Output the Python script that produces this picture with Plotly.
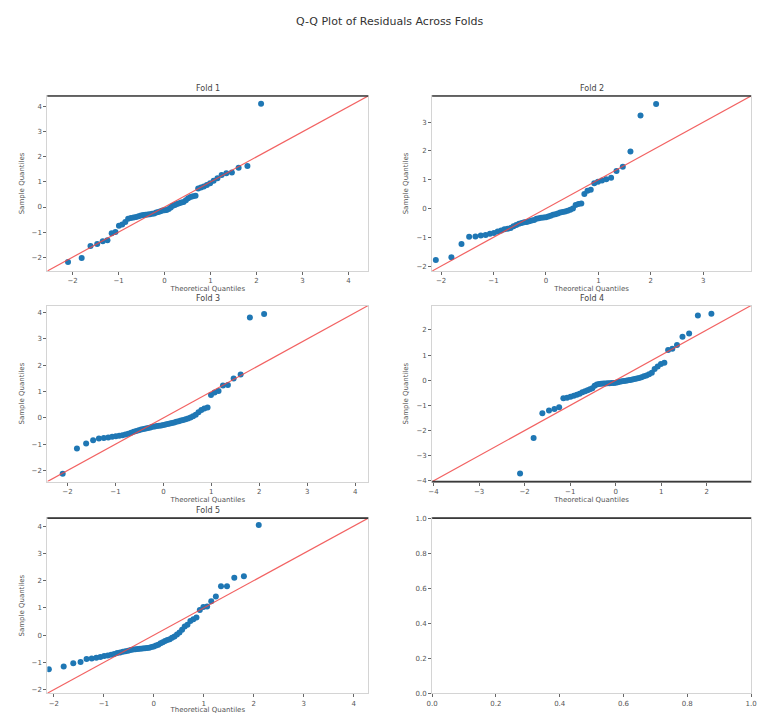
import plotly.graph_objects as go

# Theoretical quantiles (shared by all folds)
theoretical_q = [-2.100, -1.803, -1.611, -1.465, -1.345, -1.242, -1.150, -1.068, -0.992, -0.921,
                 -0.854, -0.792, -0.732, -0.674, -0.619, -0.566, -0.514, -0.464, -0.414, -0.366,
                 -0.319, -0.272, -0.226, -0.180, -0.135, -0.090, -0.045, 0.000, 0.045, 0.090,
                 0.135, 0.180, 0.226, 0.272, 0.319, 0.366, 0.414, 0.464, 0.514, 0.566,
                 0.619, 0.674, 0.732, 0.792, 0.854, 0.921, 0.992, 1.068, 1.150, 1.242,
                 1.345, 1.465, 1.611, 1.803, 2.100]

fold1 = [-2.19, -2.03, -1.55, -1.47, -1.36, -1.32, -1.05, -1.00, -0.75, -0.70,
         -0.60, -0.47, -0.44, -0.42, -0.40, -0.37, -0.34, -0.32, -0.31, -0.30,
         -0.29, -0.27, -0.26, -0.22, -0.20, -0.17, -0.14, -0.13, -0.12, -0.08,
         -0.02, 0.05, 0.08, 0.12, 0.15, 0.18, 0.20, 0.27, 0.35, 0.40,
         0.43, 0.45, 0.74, 0.78, 0.82, 0.88, 0.95, 1.05, 1.15, 1.28,
         1.35, 1.38, 1.57, 1.64, 4.12]

fold2 = [-1.79, -1.69, -1.23, -0.98, -0.97, -0.94, -0.92, -0.88, -0.85, -0.80,
         -0.76, -0.72, -0.70, -0.68, -0.62, -0.57, -0.53, -0.50, -0.48, -0.47,
         -0.44, -0.42, -0.40, -0.36, -0.34, -0.32, -0.31, -0.30, -0.28, -0.25,
         -0.22, -0.20, -0.17, -0.14, -0.12, -0.10, -0.08, -0.04, 0.00, 0.12,
         0.16, 0.17, 0.50, 0.62, 0.65, 0.88, 0.93, 0.97, 1.02, 1.07,
         1.30, 1.45, 1.98, 3.23, 3.63]

fold3 = [-2.12, -1.16, -0.97, -0.85, -0.78, -0.76, -0.74, -0.72, -0.70, -0.68,
         -0.66, -0.63, -0.60, -0.56, -0.53, -0.50, -0.47, -0.44, -0.42, -0.40,
         -0.38, -0.36, -0.34, -0.33, -0.31, -0.30, -0.29, -0.27, -0.25, -0.23,
         -0.21, -0.19, -0.17, -0.15, -0.13, -0.10, -0.08, -0.05, -0.02, 0.02,
         0.06, 0.12, 0.22, 0.30, 0.36, 0.40, 0.87, 0.97, 1.02, 1.23,
         1.25, 1.50, 1.65, 3.82, 3.95]

fold4 = [-3.71, -2.30, -1.31, -1.20, -1.14, -1.07, -0.72, -0.70, -0.66, -0.62,
         -0.58, -0.54, -0.48, -0.44, -0.40, -0.36, -0.32, -0.22, -0.17, -0.15,
         -0.14, -0.13, -0.13, -0.12, -0.12, -0.11, -0.11, -0.10, -0.08, -0.06,
         -0.04, -0.03, -0.02, 0.00, 0.01, 0.03, 0.05, 0.07, 0.09, 0.12,
         0.16, 0.19, 0.24, 0.30, 0.45, 0.55, 0.65, 0.70, 1.20, 1.25,
         1.40, 1.73, 1.86, 2.58, 2.65]

fold5 = [-1.25, -1.15, -1.03, -0.99, -0.88, -0.86, -0.83, -0.80, -0.77, -0.75,
         -0.72, -0.69, -0.66, -0.64, -0.61, -0.59, -0.57, -0.55, -0.53, -0.52,
         -0.51, -0.50, -0.49, -0.48, -0.47, -0.46, -0.44, -0.42, -0.38, -0.35,
         -0.30, -0.26, -0.22, -0.18, -0.15, -0.10, -0.05, 0.02, 0.10, 0.20,
         0.32, 0.38, 0.52, 0.58, 0.65, 0.92, 1.03, 1.05, 1.24, 1.42,
         1.79, 1.79, 2.10, 2.16, 4.04]

fold_names = ["Fold 1", "Fold 2", "Fold 3", "Fold 4", "Fold 5"]
fold_values = [fold1, fold2, fold3, fold4, fold5]
# shared axis limits (x and y) of each fold, 45-degree line spans them
fold_limits = [[-2.55, 4.43], [-2.17, 3.91], [-2.42, 4.27], [-4.03, 2.97], [-2.13, 4.29]]

empty_ticks = [0.0, 0.2, 0.4, 0.6, 0.8, 1.0]

W, H = 759, 714
col_px = [(42, 368), (433, 757)]
row_px = [(93, 270), (305, 483), (520, 697)]

def xdom(c):
    return [col_px[c][0] / W, col_px[c][1] / W]

def ydom(r):
    return [1 - row_px[r][1] / H, 1 - row_px[r][0] / H]

FONT = "DejaVu Sans"
BLUE = "#1f77b4"
fig = go.Figure()
layout = {}
annotations = []
shapes = []

tickfont = dict(family=FONT, size=7, color="#555")
titlefont = dict(family=FONT, size=7, color="#555")

for i in range(6):
    r, c = divmod(i, 2)
    k = i + 1
    xa = "xaxis" if k == 1 else f"xaxis{k}"
    ya = "yaxis" if k == 1 else f"yaxis{k}"
    xr = "x" if k == 1 else f"x{k}"
    yr = "y" if k == 1 else f"y{k}"
    common = dict(showgrid=False, zeroline=False, showline=True, linecolor="#d4d4d4",
                  linewidth=1, mirror=True, ticks="outside", ticklen=3, tickcolor="#666",
                  tickwidth=1, tickfont=tickfont, ticklabeloverflow="allow")
    if i < 5:
        lo, hi = fold_limits[i]
        fig.add_trace(go.Scatter(x=theoretical_q, y=fold_values[i], mode="markers",
                                 marker=dict(color=BLUE, size=6, line=dict(width=0)),
                                 xaxis=xr, yaxis=yr, showlegend=False))
        fig.add_trace(go.Scatter(x=[lo, hi], y=[lo, hi], mode="lines",
                                 line=dict(color="rgba(240,70,70,0.85)", width=1.2),
                                 xaxis=xr, yaxis=yr, showlegend=False))
        layout[xa] = dict(domain=xdom(c), anchor=yr, range=[lo, hi], dtick=1, tick0=0,
                          title=dict(text="Theoretical Quantiles", font=titlefont, standoff=0),
                          **common)
        layout[ya] = dict(domain=ydom(r), anchor=xr, range=[lo, hi], dtick=1, tick0=0,
                          title=dict(text="Sample Quantiles", font=titlefont, standoff=6),
                          **common)
        annotations.append(dict(text=fold_names[i], xref=f"{xr} domain", yref=f"{yr} domain",
                                x=0.5, y=1, yanchor="bottom", yshift=1, showarrow=False,
                                font=dict(family=FONT, size=8, color="#444")))
    else:
        fig.add_trace(go.Scatter(x=[], y=[], xaxis=xr, yaxis=yr, showlegend=False))
        layout[xa] = dict(domain=xdom(c), anchor=yr, range=[0, 1], tickvals=empty_ticks,
                          ticktext=["0.0", "0.2", "0.4", "0.6", "0.8", "1.0"], **common)
        layout[ya] = dict(domain=ydom(r), anchor=xr, range=[0, 1], tickvals=empty_ticks,
                          ticktext=["0.0", "0.2", "0.4", "0.6", "0.8", "1.0"], **common)

# darker spines seen in the reference
dark_edges = [(1, 1), (2, 1), (5, 1), (6, 1), (4, 0)]
for k, yv in dark_edges:
    xr = "x" if k == 1 else f"x{k}"
    yr = "y" if k == 1 else f"y{k}"
    shapes.append(dict(type="line", xref=f"{xr} domain", yref=f"{yr} domain",
                       x0=0, x1=1, y0=yv, y1=yv, line=dict(color="#3a3a3a", width=1.6)))

annotations.append(dict(text="Q-Q Plot of Residuals Across Folds", xref="paper", yref="paper",
                        x=390 / W, y=1 - 18 / H, xanchor="center", yanchor="middle",
                        showarrow=False, font=dict(family=FONT, size=11, color="#333")))

fig.update_layout(width=W, height=H, margin=dict(l=0, r=0, t=0, b=0),
                  paper_bgcolor="white", plot_bgcolor="white",
                  annotations=annotations, shapes=shapes, **layout)

fig.write_html("out.html", config={"displayModeBar": False},
               post_script="document.body.style.margin='0px';document.body.style.overflow='hidden';")
